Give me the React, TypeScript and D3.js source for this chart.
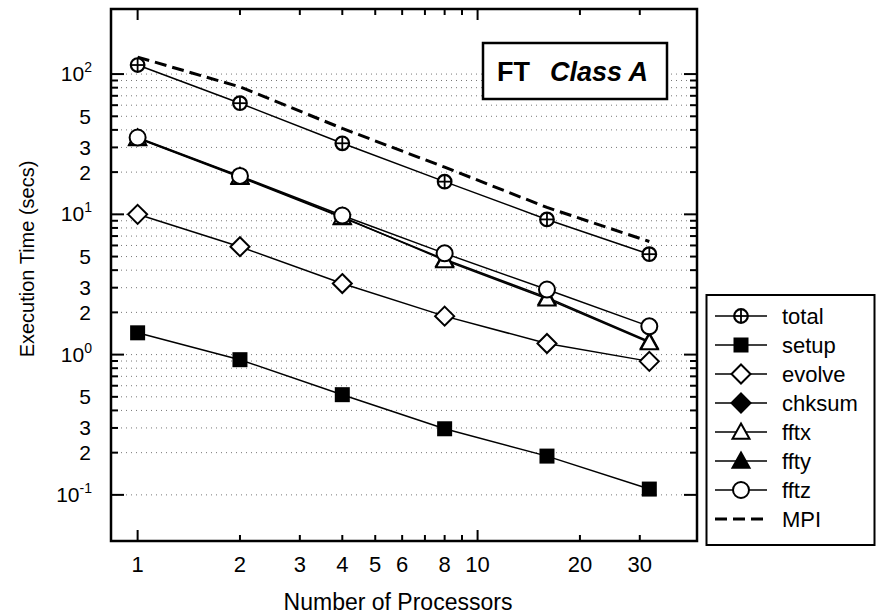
import React from "react";
import * as d3 from "d3";

// ---- data ----
const procs = [1, 2, 4, 8, 16, 32];
const total = [116, 62, 32.1, 17.1, 9.2, 5.2];
const setup = [1.43, 0.92, 0.518, 0.296, 0.189, 0.11];
const evolve = [10.0, 5.88, 3.21, 1.88, 1.2, 0.895];
const chksum: number[] = [];
const fftx = [35, 18.6, 9.6, 4.7, 2.5, 1.22];
const ffty = [34.8, 18.4, 9.5, 4.78, 2.56, 1.24];
const fftz = [35.3, 18.8, 9.8, 5.27, 2.91, 1.59];
const mpi = [132, 81, 41, 21.7, 11.2, 6.4];

const xTickLabels = [1, 2, 3, 4, 5, 6, 8, 10, 20, 30];
const yDecades = [-1, 0, 1, 2];
const yLabeledMinor = [2, 3, 5];

const legendNames = ["total", "setup", "evolve", "chksum", "fftx", "ffty", "fftz", "MPI"];
const legendMarkers = ["pluscircle", "square", "diamond", "diamondFilled", "triangle", "triangleFilled", "circle", "dash"];

const W = 876;
const H = 616;
const L = 111, R = 697, T = 9, B = 541;
const FONT = "'Liberation Sans', Arial, Helvetica, sans-serif";

const x = d3.scaleLog().domain([0.835, 44.2]).range([L, R]);
const y = d3.scaleLog().domain([0.0469, 291]).range([B, T]);

function Marker({ type, cx, cy }: { type: string; cx: number; cy: number }) {
  const sw = 2;
  switch (type) {
    case "pluscircle":
      return (
        <g>
          <circle cx={cx} cy={cy} r={6.8} fill="white" stroke="black" strokeWidth={2.2} />
          <line x1={cx - 6.8} x2={cx + 6.8} y1={cy} y2={cy} stroke="black" strokeWidth={1.8} />
          <line x1={cx} x2={cx} y1={cy - 6.8} y2={cy + 6.8} stroke="black" strokeWidth={1.8} />
        </g>
      );
    case "square":
      return <rect x={cx - 7.5} y={cy - 7.5} width={15} height={15} fill="black" />;
    case "diamond":
    case "diamondFilled": {
      const s = 9.5;
      return (
        <path
          d={`M${cx},${cy - s}L${cx + s},${cy}L${cx},${cy + s}L${cx - s},${cy}Z`}
          fill={type === "diamond" ? "white" : "black"}
          stroke="black"
          strokeWidth={sw}
        />
      );
    }
    case "triangle":
    case "triangleFilled": {
      const s = 8.5;
      return (
        <path
          d={`M${cx},${cy - s}L${cx + s},${cy + s * 0.8}L${cx - s},${cy + s * 0.8}Z`}
          fill={type === "triangle" ? "white" : "black"}
          stroke="black"
          strokeWidth={sw}
        />
      );
    }
    case "circle":
      return <circle cx={cx} cy={cy} r={8} fill="white" stroke="black" strokeWidth={sw} />;
    default:
      return null;
  }
}

const series = [
  { name: "chksum", values: chksum, marker: "diamondFilled" },
  { name: "ffty", values: ffty, marker: "triangleFilled" },
  { name: "fftx", values: fftx, marker: "triangle" },
  { name: "fftz", values: fftz, marker: "circle" },
  { name: "evolve", values: evolve, marker: "diamond" },
  { name: "setup", values: setup, marker: "square" },
  { name: "total", values: total, marker: "pluscircle" },
];

export default function App() {
  const line = d3
    .line<number>()
    .x((_, i) => x(procs[i]))
    .y((d) => y(d));

  const yTicks: { v: number; major: boolean; d: number; k: number }[] = [];
  yDecades.forEach((d) => {
    for (let k = 1; k <= 9; k++) {
      const v = k * Math.pow(10, d);
      if (v >= 0.1 && v <= 100) yTicks.push({ v, major: k === 1, d, k });
    }
  });
  const xTicks: { v: number; major: boolean }[] = [];
  [0, 1].forEach((d) => {
    for (let k = 1; k <= 9; k++) {
      const v = k * Math.pow(10, d);
      if (v >= 1 && v <= 30) xTicks.push({ v, major: k === 1 });
    }
  });

  return (
    <svg width={W} height={H} style={{ position: "absolute", left: 0, top: 0, background: "white" }} fontFamily={FONT}>
      <defs>
        <clipPath id="plotclip">
          <rect x={L} y={T} width={R - L} height={B - T} />
        </clipPath>
      </defs>
      <rect width={W} height={H} fill="white" />
      {/* gridlines */}
      {yTicks.map((t, i) => (
        <line key={"g" + i} x1={L} x2={R} y1={y(t.v)} y2={y(t.v)} stroke="#777" strokeWidth={1} strokeDasharray="1,4" />
      ))}
      {/* title box */}
      <rect x={483} y={43} width={184} height={56} fill="white" stroke="black" strokeWidth={2.5} />
      <text x={497} y={81} fontSize={27} fontWeight="bold">FT</text>
      <text x={550} y={81} fontSize={27} fontWeight="bold" fontStyle="italic">Class A</text>

      {/* data */}
      <g clipPath="url(#plotclip)">
        <path d={line(mpi) || ""} fill="none" stroke="black" strokeWidth={3} strokeDasharray="12,6" />
        {series.map((s) => (
          <g key={s.name}>
            {s.values.length > 0 && <path d={line(s.values) || ""} fill="none" stroke="black" strokeWidth={1.5} />}
            {s.values.map((v, i) => (
              <Marker key={i} type={s.marker} cx={x(procs[i])} cy={y(v)} />
            ))}
          </g>
        ))}
      </g>

      {/* frame */}
      <rect x={L} y={T} width={R - L} height={B - T} fill="none" stroke="black" strokeWidth={2.5} />
      {/* y ticks */}
      {yTicks.map((t, i) => {
        const len = t.major ? 13 : 7;
        const yy = y(t.v);
        return (
          <g key={"yt" + i}>
            <line x1={L} x2={L + len} y1={yy} y2={yy} stroke="black" strokeWidth={2} />
            <line x1={R} x2={R - len} y1={yy} y2={yy} stroke="black" strokeWidth={2} />
          </g>
        );
      })}
      {/* x ticks */}
      {xTicks.map((t, i) => {
        const len = t.major ? 11 : 6;
        const xx = x(t.v);
        return (
          <g key={"xt" + i}>
            <line x1={xx} x2={xx} y1={B} y2={B - len} stroke="black" strokeWidth={2} />
            <line x1={xx} x2={xx} y1={T} y2={T + len} stroke="black" strokeWidth={2} />
          </g>
        );
      })}
      {/* y labels */}
      {yTicks
        .filter((t) => t.major || yLabeledMinor.includes(t.k))
        .map((t, i) =>
          t.major ? (
            <text key={"yl" + i} x={92} y={y(t.v) + 7} fontSize={21} textAnchor="end">
              10<tspan fontSize={14} dy={-9}>{String(t.d)}</tspan>
            </text>
          ) : (
            <text key={"yl" + i} x={91} y={y(t.v) + 7.5} fontSize={21} textAnchor="end">
              {t.k}
            </text>
          )
        )}
      {/* x labels */}
      {xTickLabels.map((v) => (
        <text key={"xl" + v} x={x(v)} y={572} fontSize={22} textAnchor="middle">
          {v}
        </text>
      ))}
      <text x={398} y={610} fontSize={23} textAnchor="middle">Number of Processors</text>
      <text transform="translate(34,259) rotate(-90)" fontSize={20} textAnchor="middle">
        Execution Time  (secs)
      </text>

      {/* legend */}
      <rect x={706.5} y={295} width={168} height={250} fill="white" stroke="black" strokeWidth={2} />
      {legendNames.map((n, i) => {
        const ly = 316 + i * 29;
        const m = legendMarkers[i];
        return (
          <g key={"lg" + n}>
            {m === "dash" ? (
              <line x1={715} x2={767} y1={ly} y2={ly} stroke="black" strokeWidth={3} strokeDasharray="12,6" />
            ) : (
              <>
                <line x1={715} x2={767} y1={ly} y2={ly} stroke="black" strokeWidth={1.5} />
                <Marker type={m} cx={741} cy={ly} />
              </>
            )}
            <text x={782} y={ly + 7.5} fontSize={22}>{n}</text>
          </g>
        );
      })}
    </svg>
  );
}
